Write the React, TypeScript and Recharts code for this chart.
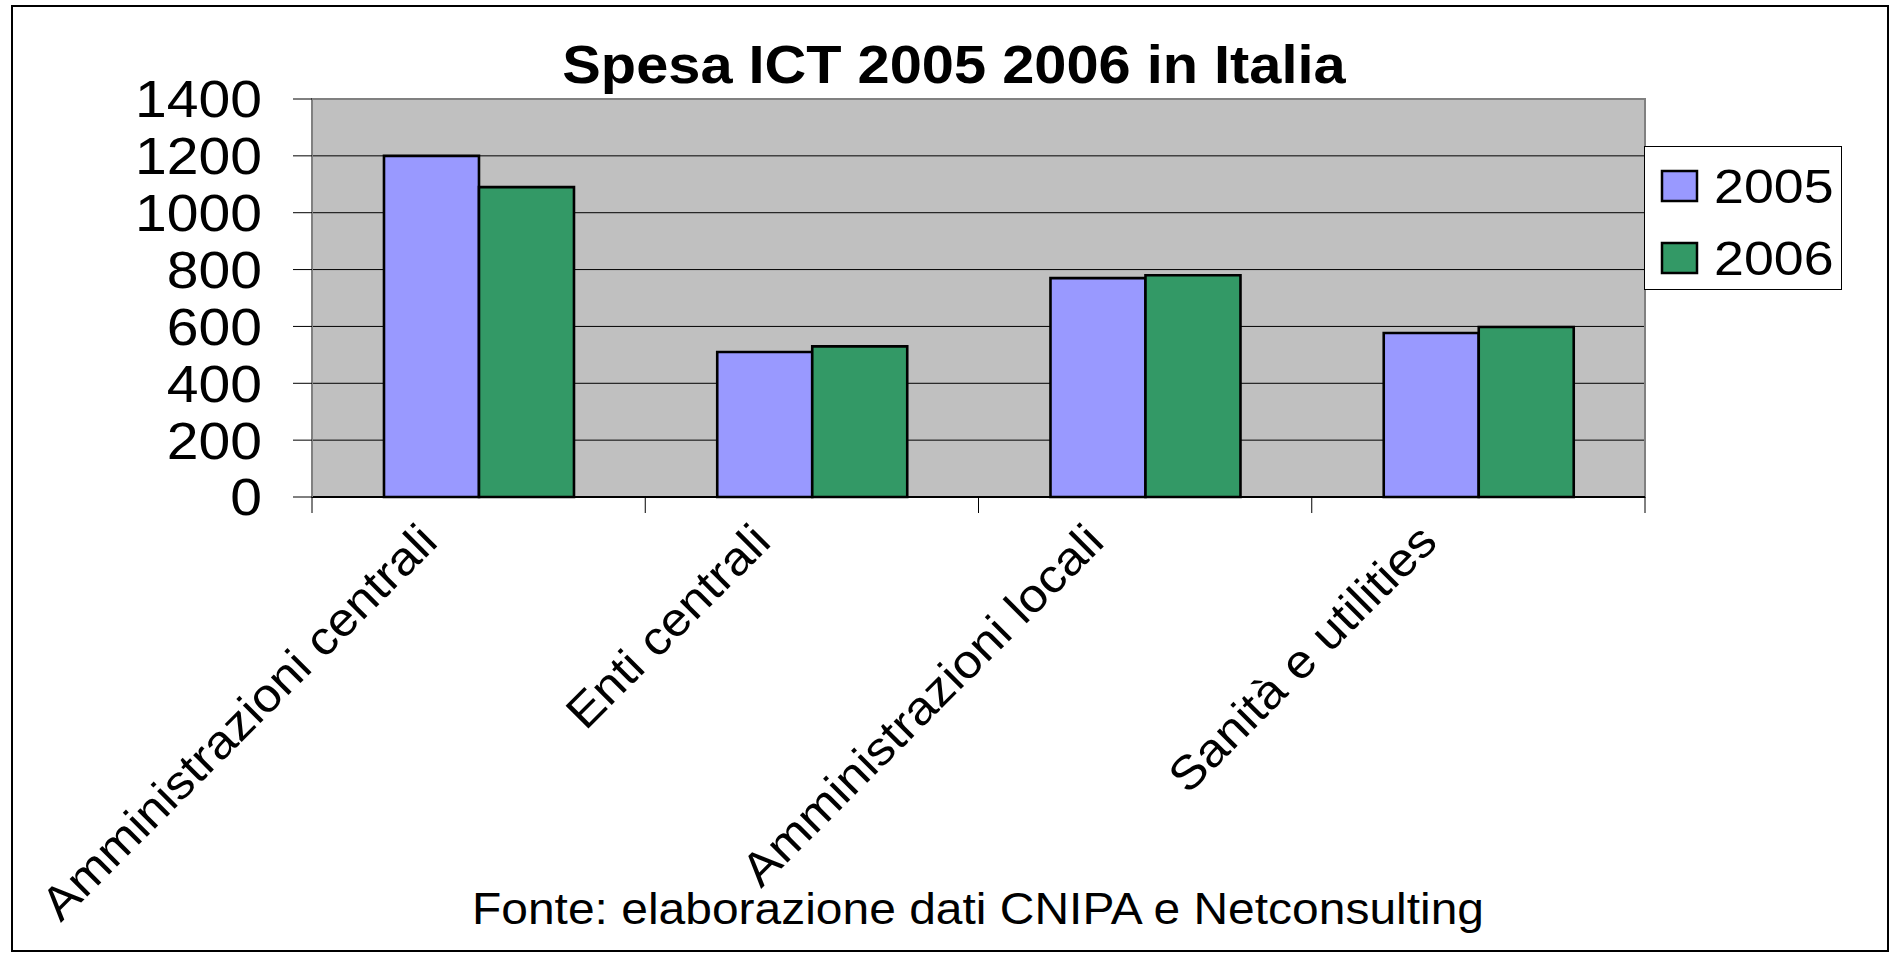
import { BarChart, Bar, XAxis, YAxis, CartesianGrid, Legend, ReferenceArea } from 'recharts';

// Spesa ICT per comparto (milioni di euro)
const categories = ['Amministrazioni centrali', 'Enti centrali', 'Amministrazioni locali', 'Sanità e utilities'];
const spesa2005 = [1200, 510, 770, 577];
const spesa2006 = [1090, 530, 780, 598];
const yTicks = [0, 200, 400, 600, 800, 1000, 1200, 1400];

const data = categories.map((name, i) => ({ name, y2005: spesa2005[i], y2006: spesa2006[i] }));

const FONT = '"Liberation Sans", Arial, Helvetica, sans-serif';
const PLOT_LEFT = 312;
const PLOT_RIGHT = 1645;
const BAND = (PLOT_RIGHT - PLOT_LEFT) / categories.length;

const YTick = ({ x, y, payload }: any) => (
  <g transform={`translate(${x},${y}) scale(1.12,1)`}>
    <text textAnchor="end" dy="0.36em" fontSize={51} fontFamily={FONT} fill="#000">
      {payload.value}
    </text>
  </g>
);

const XTick = ({ x, y, payload, index }: any) => {
  // tick marks sit on the category boundaries, Excel style
  const left = x - BAND / 2;
  return (
    <g>
      <line x1={left} x2={left} y1={y - 16} y2={y} stroke="#000" strokeWidth={1} />
      {index === categories.length - 1 && (
        <line x1={left + BAND} x2={left + BAND} y1={y - 16} y2={y} stroke="#000" strokeWidth={1} />
      )}
      <g transform={`translate(${x - 39},${y + 31}) rotate(-45) scale(1.08,1)`}>
        <text textAnchor="end" fontSize={47} fontFamily={FONT} fill="#000">
          {payload.value}
        </text>
      </g>
    </g>
  );
};

const LegendBox = ({ payload }: any) => (
  <svg width={198} height={144} style={{ display: 'block' }}>
    <rect x={0.5} y={0.5} width={197} height={143} fill="#fff" stroke="#000" strokeWidth={1} />
    {(payload || []).map((entry: any, i: number) => (
      <g key={entry.value}>
        <rect x={18} y={25 + i * 72} width={35} height={30} fill={entry.color} stroke="#000" strokeWidth={2.5} />
        <g transform={`translate(70,${57 + i * 72}) scale(1.12,1)`}>
          <text fontSize={48} fontFamily={FONT} fill="#000">{entry.value}</text>
        </g>
      </g>
    ))}
  </svg>
);

export default function App() {
  return (
    <div style={{ position: 'absolute', left: 0, top: 0, width: 1894, height: 954, background: '#fff', overflow: 'hidden' }}>
      <div
        style={{
          position: 'absolute',
          left: 11,
          top: 5,
          width: 1878,
          height: 947,
          border: '2px solid #000',
          boxSizing: 'border-box',
        }}
      />
      <div style={{ position: 'absolute', left: 0, top: 0 }}>
        <BarChart
          width={1894}
          height={954}
          data={data}
          margin={{ top: 99, right: 1894 - PLOT_RIGHT, left: 12, bottom: 357 }}
          barCategoryGap="21.6%"
          barGap={0}
        >
          <CartesianGrid vertical={false} stroke="#000" strokeWidth={1} fill="#C0C0C0" fillOpacity={1} />
          <ReferenceArea y1={0} y2={1400} fill="none" stroke="#808080" strokeWidth={2} ifOverflow="visible" />
          <XAxis
            dataKey="name"
            height={100}
            interval={0}
            tickLine={false}
            tickSize={16}
            tickMargin={0}
            axisLine={{ stroke: '#000', strokeWidth: 2 }}
            tick={<XTick />}
          />
          <YAxis
            width={300}
            domain={[0, 1400]}
            ticks={yTicks}
            interval={0}
            tickSize={19}
            tickMargin={31}
            tickLine={{ stroke: '#000', strokeWidth: 1 }}
            axisLine={{ stroke: '#808080', strokeWidth: 2 }}
            tick={<YTick />}
          />
          <Legend
            layout="vertical"
            align="center"
            verticalAlign="middle"
            wrapperStyle={{ left: 1644, top: 146, width: 198, height: 144 }}
            content={<LegendBox />}
          />
          <Bar dataKey="y2005" name="2005" fill="#9999FF" stroke="#000" strokeWidth={2.6} isAnimationActive={false} />
          <Bar dataKey="y2006" name="2006" fill="#339966" stroke="#000" strokeWidth={2.6} isAnimationActive={false} />
        </BarChart>
      </div>
      <svg width={1894} height={954} style={{ position: 'absolute', left: 0, top: 0, pointerEvents: 'none' }}>
        <g transform="translate(954,83) scale(1.09,1)">
          <text textAnchor="middle" fontSize={53} fontWeight="bold" fontFamily={FONT} fill="#000">
            Spesa ICT 2005 2006 in Italia
          </text>
        </g>
        <g transform="translate(978,924) scale(1.09,1)">
          <text textAnchor="middle" fontSize={44} fontFamily={FONT} fill="#000">
            Fonte: elaborazione dati CNIPA e Netconsulting
          </text>
        </g>
      </svg>
    </div>
  );
}
